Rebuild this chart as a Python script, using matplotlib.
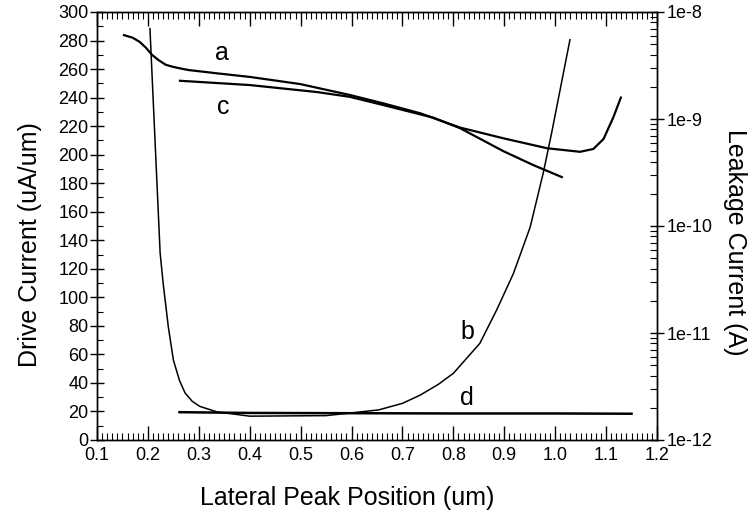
import matplotlib
matplotlib.use("Agg")
import matplotlib.pyplot as plt
from matplotlib.ticker import MultipleLocator, FixedLocator, FuncFormatter, LogLocator, NullFormatter
import numpy as np

plt.rcParams['font.family'] = ['Liberation Sans', 'DejaVu Sans']

# ---- data ----
# drive current curves (left axis, uA/um)
x_a = [0.153, 0.170, 0.184, 0.196, 0.208, 0.22, 0.235, 0.25, 0.263, 0.28, 0.30, 0.336, 0.40,
       0.499, 0.597, 0.662, 0.735, 0.813, 0.898, 0.984, 1.049, 1.075, 1.095, 1.114, 1.129]
y_a = [283.8, 282, 279, 275, 270, 266.5, 263, 261.5, 260.5, 259.3, 258.5, 257, 254.5,
       249.5, 241.8, 236, 229, 219, 211.5, 204.5, 202, 204, 211, 226, 240]
x_c = [0.263, 0.40, 0.532, 0.597, 0.662, 0.76, 0.813, 0.898, 0.957, 1.013]
y_c = [251.8, 248.8, 243.9, 240.5, 234.8, 226, 218.6, 202.5, 192.7, 184.3]

# leakage current curves (right axis, A)
x_b = [0.204, 0.224, 0.23, 0.24, 0.25, 0.262, 0.273, 0.287, 0.302, 0.336, 0.40, 0.55, 0.653,
       0.70, 0.735, 0.77, 0.80, 0.852, 0.885, 0.918, 0.951, 0.977, 0.993, 1.029]
i_b = [7.0e-9, 5.6e-11, 2.9e-11, 1.15e-11, 5.6e-12, 3.6e-12, 2.75e-12, 2.3e-12, 2.06e-12,
       1.83e-12, 1.67e-12, 1.69e-12, 1.91e-12, 2.2e-12, 2.63e-12, 3.3e-12, 4.2e-12, 8.0e-12,
       1.64e-11, 3.6e-11, 9.8e-11, 3.2e-10, 7.4e-10, 5.5e-9]
x_d = [0.262, 0.40, 0.60, 0.80, 1.00, 1.15]
i_d = [1.82e-12, 1.79e-12, 1.78e-12, 1.77e-12, 1.77e-12, 1.76e-12]

labels = ['a', 'c', 'b', 'd']
label_pos = [(0.346, 271), (0.348, 233.5), (0.827, 76), (0.827, 29.5)]

xticks = [0.1, 0.2, 0.3, 0.4, 0.5, 0.6, 0.7, 0.8, 0.9, 1.0, 1.1, 1.2]
yticks = list(range(0, 301, 20))
rticks = [1e-12, 1e-11, 1e-10, 1e-9, 1e-8]
rlabels = ['1e-12', '1e-11', '1e-10', '1e-9', '1e-8']

fig = plt.figure(figsize=(7.5, 5.15), dpi=100)
ax = fig.add_axes([97/750, 75/515, 560/750, 428/515])
ax2 = ax.twinx()

ax.plot(x_a, y_a, color='black', lw=1.6)
ax.plot(x_c, y_c, color='black', lw=1.6)
ax2.plot(x_b, i_b, color='black', lw=1.1)
ax2.plot(x_d, i_d, color='black', lw=1.8)

ax.set_xlim(0.1, 1.2)
ax.set_ylim(0, 300)
ax2.set_yscale('log')
ax2.set_ylim(1e-12, 1e-8)

for t, (lx, ly) in zip(labels, label_pos):
    ax.text(lx, ly, t, fontsize=18, ha='center', va='center')

ax.xaxis.set_major_locator(FixedLocator(xticks))
ax.xaxis.set_major_formatter(FuncFormatter(lambda v, p: f"{v:.1f}"))
ax.xaxis.set_minor_locator(MultipleLocator(0.01))
ax.yaxis.set_major_locator(FixedLocator(yticks))
ax.yaxis.set_minor_locator(MultipleLocator(10))

ax.tick_params(axis='x', which='major', direction='in', length=10, width=1,
               top=True, bottom=True, labelsize=13, pad=5)
ax.tick_params(axis='x', which='minor', direction='in', length=5, width=0.8,
               top=True, bottom=True)
ax.tick_params(axis='y', which='major', direction='inout', length=10, width=1,
               labelsize=13, pad=1)
ax.tick_params(axis='y', which='minor', direction='in', length=4, width=0.8)

ax2.yaxis.set_major_locator(FixedLocator(rticks))
ax2.yaxis.set_major_formatter(FuncFormatter(lambda v, p: rlabels[rticks.index(v)] if v in rticks else ''))
ax2.yaxis.set_minor_locator(LogLocator(base=10, subs=np.arange(2, 10)))
ax2.yaxis.set_minor_formatter(NullFormatter())
ax2.tick_params(axis='y', which='major', direction='inout', length=10, width=1,
                labelsize=13, pad=2)
ax2.tick_params(axis='y', which='minor', direction='in', length=5, width=0.8)

for a in (ax, ax2):
    for s in a.spines.values():
        s.set_linewidth(1.0)

ax.set_xlabel('Lateral Peak Position (um)', fontsize=18, va='center')
ax.xaxis.set_label_coords(0.447, -(498 - 440) / 428)
ax.set_ylabel('Drive Current (uA/um)', fontsize=18, va='center')
ax.yaxis.set_label_coords(-(97 - 30) / 560, (440 - 245) / 428)
ax2.set_ylabel('Leakage Current (A)', rotation=270, fontsize=18, va='center')
ax2.yaxis.set_label_coords((735 - 97) / 560, (440 - 242) / 428)

fig.savefig('out.png', dpi=100)
